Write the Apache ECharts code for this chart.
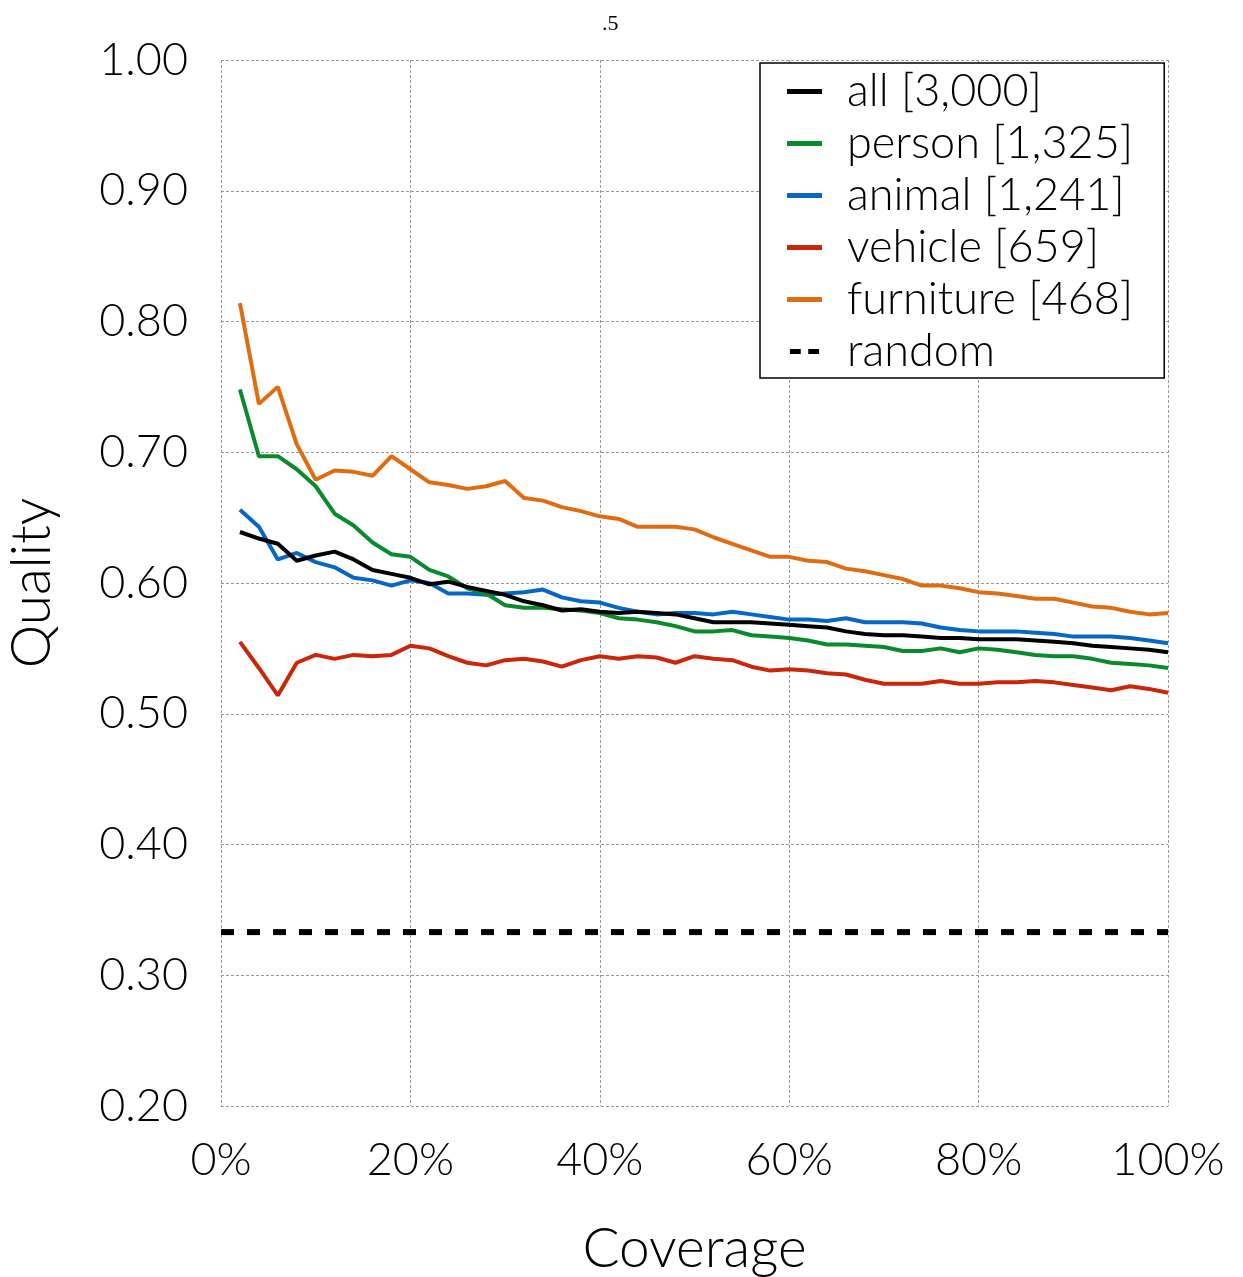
<!DOCTYPE html>
<html>
<head>
<meta charset="utf-8">
<script src="https://cdn.jsdelivr.net/npm/echarts@6/dist/echarts.min.js"></script>
<style>
html,body{margin:0;padding:0;background:#fff;}
#main{width:1243px;height:1277px;}
</style>
</head>
<body>
<div id="main"></div>
<script>
var coverage = [2,4,6,8,10,12,14,16,18,20,22,24,26,28,30,32,34,36,38,40,42,44,46,48,50,52,54,56,58,60,62,64,66,68,70,72,74,76,78,80,82,84,86,88,90,92,94,96,98,100];

var allQ = [0.639,0.634,0.630,0.617,0.621,0.624,0.618,0.610,0.607,0.604,
  0.599,0.601,0.597,0.594,0.591,0.586,0.583,0.579,0.580,0.578,0.577,0.578,0.577,0.576,0.573,0.570,0.570,0.570,0.569,
  0.568,
  0.567,0.566,0.563,0.561,0.560,0.560,0.559,0.558,0.558,0.557,0.557,0.557,0.556,0.555,0.554,0.552,0.551,0.550,0.549,0.547];

var personQ = [0.748,0.697,0.697,0.687,0.674,0.653,0.644,0.631,0.622,0.620,
  0.610,0.605,0.596,0.592,0.583,0.581,0.581,0.580,0.579,0.577,0.573,0.572,0.570,0.567,0.563,0.563,0.564,0.560,0.559,
  0.558,
  0.556,0.553,0.553,0.552,0.551,0.548,0.548,0.550,0.547,0.550,0.549,0.547,0.545,0.544,0.544,0.542,0.539,0.538,0.537,0.535];

var animalQ = [0.656,0.643,0.618,0.623,0.616,0.612,0.604,0.602,0.598,0.602,
  0.600,0.592,0.592,0.591,0.592,0.593,0.595,0.589,0.586,0.585,0.581,0.578,0.576,0.577,0.577,0.576,0.578,0.576,0.574,
  0.572,
  0.572,0.571,0.573,0.570,0.570,0.570,0.569,0.566,0.564,0.563,0.563,0.563,0.562,0.561,0.559,0.559,0.559,0.558,0.556,0.554];

var vehicleQ = [0.555,0.535,0.514,0.539,0.545,0.542,0.545,0.544,0.545,0.552,
  0.550,0.544,0.539,0.537,0.541,0.542,0.540,0.536,0.541,0.544,0.542,0.544,0.543,0.539,0.544,0.542,0.541,0.536,0.533,
  0.534,
  0.533,0.531,0.530,0.526,0.523,0.523,0.523,0.525,0.523,0.523,0.524,0.524,0.525,0.524,0.522,0.520,0.518,0.521,0.519,0.516];

var furnitureQ = [0.814,0.737,0.750,0.706,0.679,0.686,0.685,0.682,0.697,0.687,
  0.677,0.675,0.672,0.674,0.678,0.665,0.663,0.658,0.655,0.651,0.649,0.643,0.643,0.643,0.641,0.635,0.630,0.625,0.620,
  0.620,
  0.617,0.616,0.611,0.609,0.606,0.603,0.598,0.598,0.596,0.593,0.592,0.590,0.588,0.588,0.585,0.582,0.581,0.578,0.576,0.577];

var randomX = [0, 100];
var randomQ = [0.333, 0.333];

var seriesNames = ['all [3,000]','person [1,325]','animal [1,241]','vehicle [659]','furniture [468]','random'];
var seriesColors = ['#000000','#088a2d','#0767c6','#c9260a','#e06c12','#000000'];

function pairs(xs, ys){ return xs.map(function(x,i){ return [x, ys[i]]; }); }

var FONT = 'Lato';
var chart = echarts.init(document.getElementById('main'), null, {renderer:'canvas'});

var lineSeries = [allQ, personQ, animalQ, vehicleQ, furnitureQ].map(function(arr, i){
  return {
    name: seriesNames[i], type:'line', data: pairs(coverage, arr),
    symbol:'none', lineStyle:{width:4, color:seriesColors[i]}, itemStyle:{color:seriesColors[i]},
    z: 10 - i, animation:false
  };
});
lineSeries.push({
  name: seriesNames[5], type:'line', data: pairs(randomX, randomQ),
  symbol:'none', lineStyle:{width:6, color:'#000', type:[13,13]}, itemStyle:{color:'#000'},
  animation:false
});

var legendData = seriesNames.map(function(n, i){
  return { name:n, icon: i === 5 ? 'path://M0,0H13V6H0Z M22,0H35V6H22Z' : 'rect' };
});

chart.setOption({
  animation:false,
  backgroundColor:'#fff',
  title:{ text:'.5', left:597, top:8, textStyle:{fontFamily:'Liberation Serif', fontSize:22, fontWeight:'normal', color:'#000'} },
  grid:{ left:221, right:75, top:60, bottom:171, containLabel:false, outerBoundsMode:'none' },
  legend:{
    orient:'vertical', left:760, top:63,
    data: legendData,
    backgroundColor:'#fff', borderColor:'#000', borderWidth:1.5,
    padding:[6, 31, 4, 27],
    itemWidth:35, itemHeight:5, itemGap:7,
    textStyle:{ fontFamily:FONT, fontWeight:300, fontSize:45, color:'#000', padding:[0,0,0,20] }
  },
  xAxis:{
    type:'value', min:0, max:100, interval:20,
    name:'Coverage', nameLocation:'middle', nameGap:116,
    nameTextStyle:{ fontFamily:FONT, fontWeight:300, fontSize:55, color:'#000' },
    axisLine:{show:false}, axisTick:{show:false},
    axisLabel:{ formatter:'{value}%', margin:32, fontFamily:FONT, fontWeight:300, fontSize:45, color:'#000' },
    splitLine:{ show:true, lineStyle:{ color:'#999', width:1, type:[3,2] } }
  },
  yAxis:{
    type:'value', min:0.2, max:1.0, interval:0.1,
    name:'Quality', nameLocation:'middle', nameGap:161, nameRotate:90,
    nameTextStyle:{ fontFamily:FONT, fontWeight:300, fontSize:55, color:'#000' },
    axisLabel:{ formatter:function(v){ return v.toFixed(2); }, margin:33, fontFamily:FONT, fontWeight:300, fontSize:45, color:'#000' },
    axisLine:{show:false}, axisTick:{show:false},
    splitLine:{ show:true, lineStyle:{ color:'#999', width:1, type:[3,2] } }
  },
  series: lineSeries
});
</script>
</body>
</html>
